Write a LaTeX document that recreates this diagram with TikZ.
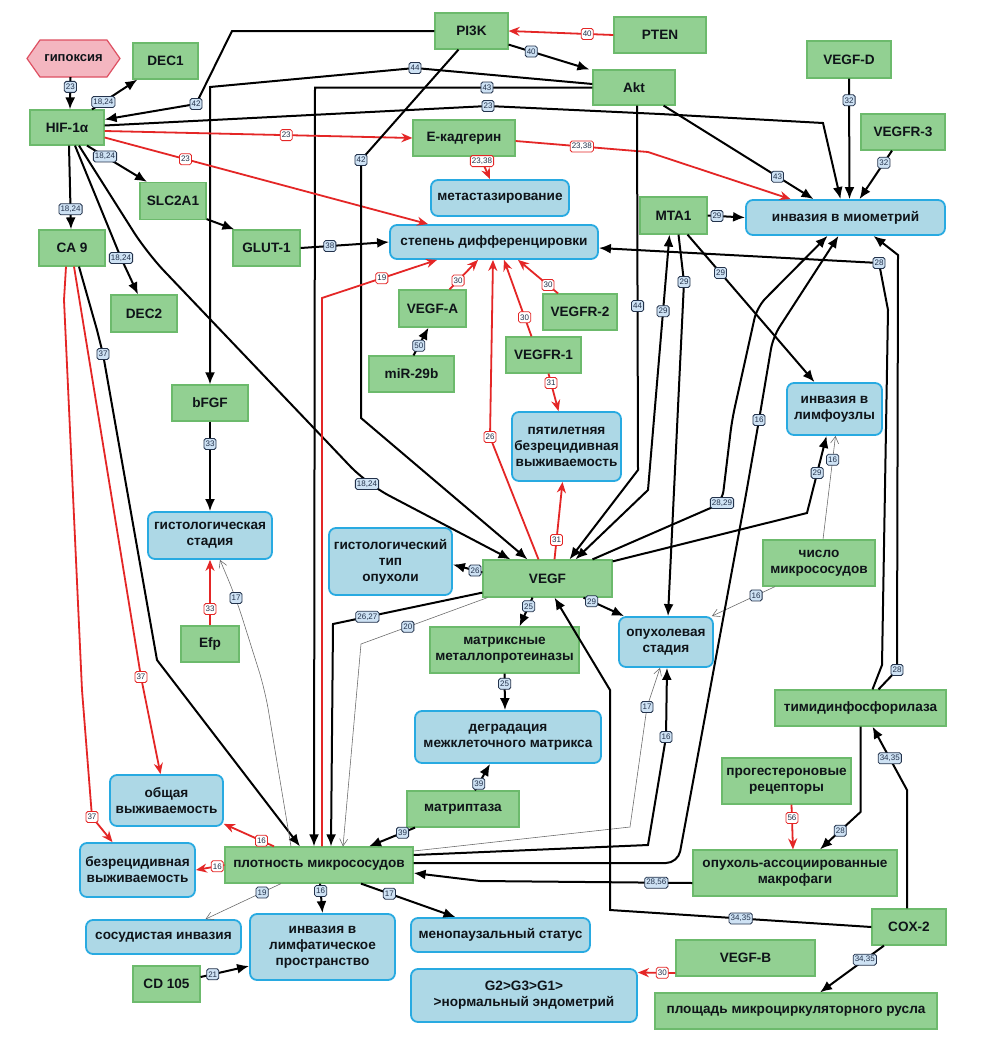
\documentclass[tikz,border=0pt]{standalone}
\usepackage{fontspec}
\setmainfont{Liberation Sans}
\newfontfamily\lsans{Liberation Sans}
\usetikzlibrary{arrows.meta,calc}
\newcommand\bxf{\lsans\bfseries\fontsize{13.6}{16}\selectfont}
\newcommand\lbf{\lsans\fontsize{8}{9}\selectfont}
\definecolor{gfill}{RGB}{146,208,146}
\definecolor{gdraw}{RGB}{108,186,108}
\definecolor{bfill}{RGB}{173,216,230}
\definecolor{bdraw}{RGB}{40,170,225}
\definecolor{hfill}{RGB}{244,182,192}
\definecolor{hdraw}{RGB}{222,80,98}
\definecolor{rline}{RGB}{228,38,38}
\definecolor{lfill}{RGB}{206,226,244}
\definecolor{ldraw}{RGB}{35,50,75}
\definecolor{tline}{RGB}{100,100,100}
\definecolor{txt}{RGB}{15,20,25}
\begin{document}
\begin{tikzpicture}[x=1pt,y=-1pt,
  gb/.style={draw=gdraw, fill=gfill, line width=1.2pt, inner xsep=2pt, align=center, font=\bxf, text=txt},
  bb/.style={draw=bdraw, fill=bfill, line width=1.8pt, rounded corners=7pt, inner xsep=2pt, align=center, font=\bxf, text=txt},
  sz/.style 2 args={minimum width=#1pt, minimum height=#2pt},
  lb/.style={draw=ldraw, fill=lfill, line width=0.8pt, rounded corners=1.8pt, inner xsep=1.6pt, inner ysep=1.4pt, font=\lbf, text=ldraw, minimum height=11pt},
  rlb/.style={lb, draw=rline, fill=white},
  ar/.style={draw=black, line width=2pt, -{Latex[length=12pt,width=10pt]}},
  arb/.style={draw=black, line width=2pt, {Latex[length=12pt,width=10pt]}-{Latex[length=12pt,width=10pt]}},
  rar/.style={draw=rline, line width=1.8pt, -{Stealth[length=11pt,width=9pt]}},
  thn/.style={draw=tline, line width=0.55pt, -{Straight Barb[length=7pt,width=8pt]}}
]
\useasboundingbox (0,0) rectangle (983,1055);
\fill[white] (0,0) rectangle (983,1055);

% hexagon
\filldraw[fill=hfill, draw=hdraw, line width=1.2pt] (27,58.5) -- (40,40) -- (107,40) -- (120,58.5) -- (107,77) -- (40,77) -- cycle;
\node[sz={93}{37}, inner sep=0, font=\lsans\bfseries\fontsize{13}{14}\selectfont, text=txt] (hyp) at (73.5,58.5) {гипоксия};

% green nodes
\node[gb,sz={65}{36}] (dec1) at (165.5,61) {DEC1};
\node[gb,sz={74}{35}] (hif) at (67,127.5) {HIF-1α};
\node[gb,sz={73}{36}] (pi3k) at (471.5,31) {PI3K};
\node[gb,sz={92}{36}] (pten) at (660,35) {PTEN};
\node[gb,sz={82}{35}] (akt) at (634,87.5) {Akt};
\node[gb,sz={84}{37}] (vegfd) at (849,59.5) {VEGF-D};
\node[gb,sz={84}{36}] (vegfr3) at (903,132) {VEGFR-3};
\node[gb,sz={102}{36}] (ecad) at (464,138) {E-кадгерин};
\node[gb,sz={66}{37}] (slc) at (173,201) {SLC2A1};
\node[gb,sz={67}{36}] (glut) at (266.5,248) {GLUT-1};
\node[gb,sz={66}{36}] (ca9) at (72,248) {CA 9};
\node[gb,sz={66}{37}] (dec2) at (144,313.5) {DEC2};
\node[gb,sz={67}{37}] (mta1) at (673.5,215.5) {MTA1};
\node[gb,sz={74}{36}] (vegfr2) at (580,312) {VEGFR-2};
\node[gb,sz={67}{37}] (vegfa) at (432.5,308.5) {VEGF-A};
\node[gb,sz={85}{36}] (mir) at (411.5,374) {miR-29b};
\node[gb,sz={75}{36}] (vegfr1) at (543.5,355) {VEGFR-1};
\node[gb,sz={76}{36}] (bfgf) at (210,403) {bFGF};
\node[gb,sz={58}{36}] (efp) at (210,644) {Efp};
\node[gb,sz={129}{37}] (vegf) at (547.5,578.5) {VEGF};
\node[gb,sz={149}{46}] (mmp) at (504.5,650) {матриксные\\металлопротеиназы};
\node[gb,sz={112}{46}] (chislo) at (819,563) {число\\микрососудов};
\node[gb,sz={171}{36}] (timid) at (860.5,708) {тимидинфосфорилаза};
\node[gb,sz={129}{46}] (prog) at (786.5,781) {прогестероновые\\рецепторы};
\node[gb,sz={204}{46}] (macro) at (795,873) {опухоль-ассоциированные\\макрофаги};
\node[gb,sz={74}{36}] (cox) at (909,927) {COX-2};
\node[gb,sz={139}{36}] (vegfb) at (745.5,958) {VEGF-B};
\node[gb,sz={282}{36}] (plosh) at (796,1011) {площадь микроциркуляторного русла};
\node[gb,sz={112}{36}] (matr) at (463,809) {матриптаза};
\node[gb,sz={188}{36}] (plot) at (319,865) {плотность микрососудов};
\node[gb,sz={67}{36}] (cd105) at (166.5,984) {CD 105};

% blue nodes
\node[bb,sz={138}{36}] (metast) at (500,198) {метастазирование};
\node[bb,sz={208}{34}] (stepen) at (494,242) {степень дифференцировки};
\node[bb,sz={199}{35}] (miom) at (845.5,217.5) {инвазия в миометрий};
\node[bb,sz={95}{52}] (limfu) at (834.5,409) {инвазия в\\лимфоузлы};
\node[bb,sz={109}{69}] (pyati) at (566.5,446.5) {пятилетняя\\безрецидивная\\выживаемость};
\node[bb,sz={124}{47}] (gstad) at (210,535.5) {гистологическая\\стадия};
\node[bb,sz={123}{67}] (gtip) at (390.5,561.5) {гистологический\\тип\\опухоли};
\node[bb,sz={94}{50}] (opst) at (666,642) {опухолевая\\стадия};
\node[bb,sz={186}{52}] (degr) at (508,737) {деградация\\межклеточного матрикса};
\node[bb,sz={113}{51}] (obsh) at (166.5,800.5) {общая\\выживаемость};
\node[bb,sz={115}{54}] (bezr) at (137.5,870) {безрецидивная\\выживаемость};
\node[bb,sz={155}{34}] (sosud) at (163.5,937) {сосудистая инвазия};
\node[bb,sz={145}{66}] (limfp) at (322.5,947) {инвазия в\\лимфатическое\\пространство};
\node[bb,sz={179}{34}] (menop) at (500.5,935) {менопаузальный статус};
\node[bb,sz={226}{53}] (g2) at (524,995.5) {G2>G3>G1>\\>нормальный эндометрий};

% edges
\draw[ar] ([xshift=-3]hyp.south) -- node[lb,pos=.3]{23} ([xshift=3]hif.north);
\draw[ar] ([xshift=25]hif.north) -- node[lb,pos=.25]{18,24} ([xshift=5]dec1.south west);
\draw[ar] (pi3k.west) -- (232,31) -- (196,104) node[lb]{42} -- ([yshift=8]hif.east);
\draw[ar] ([yshift=3.5]akt.west) -- (415,68) node[lb]{44} -- (210,87) -- (bfgf.north);
\draw[ar] (akt.west) -- node[lb,pos=.38]{43} (315,87.5) -- ([xshift=-5]plot.north);
\draw[ar] ([yshift=2]hif.east) -- (488,106) node[lb]{23} -- (660,114) -- (823,123) -- ([xshift=-5]miom.north);
\draw[rar] ([yshift=-3.5]hif.east) -- node[rlb,pos=.59]{23} (ecad.west);
\draw[rar] ([yshift=-10]hif.east) -- node[rlb,pos=.25]{23} ([xshift=-66]stepen.north);
\draw[rar] ([xshift=16]ecad.south) -- node[rlb,pos=.2]{23,38} ([xshift=-10]metast.north);
\draw[rar] ([yshift=-3]ecad.east) -- node[rlb,pos=.5]{23,38} (648,152) -- ([xshift=-55]miom.north);
\draw[rar] (pten.west) -- node[rlb,pos=.25]{40} (pi3k.east);
\draw[ar] ([yshift=5]pi3k.south east) -- node[lb,pos=.28]{40} ([xshift=-3]akt.north west);
\draw[ar] ([xshift=-13]pi3k.south) -- (361,160) node[lb]{42} -- (361,418) -- ([xshift=-20]vegf.north);
\draw[ar,rounded corners=25pt] ([xshift=12]hif.south) -- (147,253) -- (330,445) -- (367,484) node[lb]{18,24} -- ([xshift=-37]vegf.north);
\draw[ar] ([xshift=20]hif.south) -- node[lb,pos=.3]{18,24} ([xshift=-26]slc.north);
\draw[ar] ([xshift=2]hif.south) -- node[lb,pos=.76]{18,24} ([xshift=-1]ca9.north);
\draw[ar] ([xshift=8]hif.south) -- (121,258) node[lb]{18,24} -- ([xshift=-6]dec2.north);
\draw[ar] ([yshift=1]slc.south east) -- ([xshift=2]glut.north west);
\draw[ar] (glut.east) -- node[lb,pos=.33]{38} (stepen.west);
\draw[ar] ([xshift=7]ca9.south) -- (97,330) -- (103,354) node[lb]{37} -- (157,660) -- ([xshift=-19]plot.north);
\draw[rar] ([xshift=-6]ca9.south) -- (64,300) -- (82,690) -- (92,817) node[rlb]{37} -- ([xshift=-25]bezr.north);
\draw[rar] ([xshift=2]ca9.south) -- (141,677) node[rlb]{37} -- ([xshift=-6]obsh.north);
\draw[ar] (bfgf.south) -- node[lb,pos=.25]{33} (gstad.north);
\draw[rar] (efp.north) -- node[rlb,pos=.25]{33} (gstad.south);
\draw[thn,rounded corners=20pt] ([xshift=-28]plot.north) -- (265,690) -- (236,598) node[lb]{17} -- ([xshift=10]gstad.south);
\draw[ar] ([xshift=2]mir.north) -- node[lb,pos=.35]{50} ([xshift=-4]vegfa.south);
\draw[rar] ([xshift=17]vegfa.north) -- node[rlb,pos=.3]{30} ([xshift=-16]stepen.south);
\draw[rar] ([xshift=-22]vegfr2.north) -- node[rlb,pos=.25]{30} ([xshift=24]stepen.south);
\draw[rar] ([xshift=-12]vegfr1.north) -- node[rlb,pos=.25]{30} ([xshift=10]stepen.south);
\draw[rar] ([xshift=-9]vegf.north) -- (490,437) node[rlb]{26} -- ([xshift=-1]stepen.south);
\draw[rar] ([xshift=7]vegf.north) -- node[rlb,pos=.25]{31} ([xshift=-4]pyati.south);
\draw[rar] ([xshift=5]vegfr1.south) -- node[rlb,pos=.25]{31} ([xshift=-8]pyati.north);
\draw[ar] ([yshift=6]vegf.west) -- node[lb,pos=.25]{26} ([yshift=-3]gtip.east);
\draw[ar] ([yshift=5]vegf.south west) -- node[lb,pos=.77]{26,27} (333,624) -- ([xshift=12]plot.north);
\draw[thn] ([xshift=-60]vegf.south) -- node[lb,pos=.63]{20} (361,644) -- ([xshift=24]plot.north);
\draw[ar] ([xshift=-15]vegf.south) -- node[lb,pos=.3]{25} ([xshift=15]mmp.north);
\draw[ar] (mmp.south) -- node[lb,pos=.28]{25} ([xshift=-3]degr.north);
\draw[ar] ([xshift=12]matr.north) -- node[lb,pos=.25]{39} ([xshift=-18]degr.south);
\draw[ar] ([xshift=-48]matr.south) -- node[lb,pos=.27]{39} ([xshift=50]plot.north);
\draw[ar] ([xshift=36]vegf.south) -- node[lb,pos=.2]{29} ([xshift=6]opst.north west);
\draw[thn] ([xshift=-44]chislo.south) -- node[lb,pos=.3]{16} ([xshift=-2]opst.north east);
\draw[thn] ([xshift=4]chislo.north) -- node[lb,pos=.77]{16} ([xshift=1]limfu.south);
\draw[ar] ([yshift=-2]vegf.north east) -- (807,513) -- node[lb,pos=.52]{29} ([xshift=-8]limfu.south);
\draw[ar,rounded corners=12pt] ([xshift=45]vegf.north) -- (722,503) node[lb]{28,29} -- (732,420) -- (757,307) -- ([xshift=-18]miom.south);
\draw[ar,rounded corners=12pt] ([yshift=2]plot.east) -- (678,863) -- (745,500) -- (759,420) node[lb]{16} -- (773,337) -- ([xshift=-7]miom.south);
\draw[ar] ([yshift=10]plot.east) -- (648,845) -- (666,737) node[lb]{16} -- ([xshift=1]opst.south);
\draw[thn] ([yshift=14]plot.east) -- (630,827) -- (647,707) node[lb]{17} -- ([xshift=-6]opst.south);
\draw[ar] ([yshift=-10]macro.west) -- node[lb,pos=.17]{28,56} (480,881) -- ([yshift=-8]plot.east);
\draw[ar] (cox.west) -- node[lb,pos=.5]{34,35} (610,910) -- (610,690) -- ([xshift=7]vegf.south);
\draw[ar] ([xshift=-2]cox.north) -- (907,790) -- node[lb,pos=.5]{34,35} ([xshift=12]timid.south);
\draw[ar] ([xshift=-25]cox.south) -- node[lb,pos=.3]{34,35} ([xshift=24]plosh.north);
\draw[ar] (timid.south) -- (860.5,812) -- node[lb,pos=.5]{28} ([xshift=25]macro.north);
\draw[rar] ([xshift=5]prog.south) -- node[rlb,pos=.3]{56} ([xshift=-2]macro.north);
\draw[ar] ([xshift=12]timid.north) -- (882,665) -- (888,310) -- (879,263) node[lb]{28} -- ([yshift=-6]stepen.east);
\draw[ar] ([xshift=18]timid.north) -- (897,670) node[lb]{28} -- (898,255) -- ([xshift=28]miom.south);
\draw[ar] (vegfd.south) -- node[lb,pos=.18]{32} ([xshift=4]miom.north);
\draw[ar] ([xshift=-11]vegfr3.south) -- node[lb,pos=.25]{32} ([xshift=14]miom.north);
\draw[ar] ([xshift=-12]akt.south east) -- node[lb,pos=.76]{43} ([xshift=-32]miom.north);
\draw[ar] (mta1.east) -- node[lb,pos=.25]{29} (miom.west);
\draw[ar] ([xshift=14]mta1.south) -- node[lb,pos=.26]{29} ([xshift=-20]limfu.north);
\draw[ar] ([xshift=5]mta1.south) -- (684,282) node[lb]{29} -- ([xshift=2]opst.north);
\draw[arb] ([xshift=28]vegf.north) -- (648,490) -- node[lb,pos=.7]{29} ([xshift=-4]mta1.south);
\draw[ar] ([xshift=3]akt.south) -- node[lb,pos=.55]{44} (638,470) -- ([xshift=22]vegf.north);
\draw[rar] ([xshift=-45]plot.north) -- node[rlb,pos=.25]{16} ([yshift=3]obsh.south east);
\draw[rar] (plot.west) -- node[rlb,pos=.25]{16} (bezr.east);
\draw[thn] ([xshift=-38]plot.south) -- node[lb,pos=.25]{19} ([xshift=42]sosud.north);
\draw[ar] ([xshift=1]plot.south) -- node[lb,pos=.25]{16} (limfp.north);
\draw[ar] ([xshift=42]plot.south) -- node[lb,pos=.3]{17} ([xshift=-45]menop.north);
\draw[ar] ([yshift=7]cd105.east) -- node[lb,pos=.25]{21} ([yshift=-19]limfp.west);
\draw[rar] ([yshift=-15]vegfb.west) -- node[rlb,pos=.35]{30} ([yshift=23]g2.east);
\draw[rar] ([xshift=3]plot.north) -- (322,298) -- node[rlb,pos=.52]{19} ([xshift=-57]stepen.south);
\end{tikzpicture}
\end{document}
